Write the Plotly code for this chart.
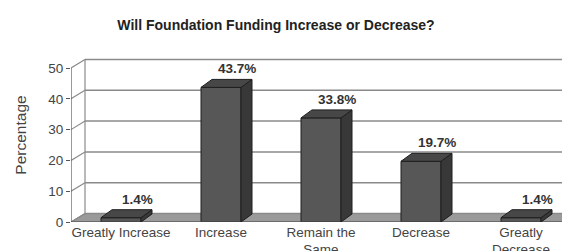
import plotly.graph_objects as go

categories = ["Greatly Increase", "Increase", "Remain the<br>Same", "Decrease", "Greatly<br>Decrease"]
values = [1.4, 43.7, 33.8, 19.7, 1.4]
labels = ["1.4%", "43.7%", "33.8%", "19.7%", "1.4%"]
ytick_vals = [0, 10, 20, 30, 40, 50]
title_text = "Will Foundation Funding Increase or Decrease?"
ytitle = "Percentage"

W, H = 570, 251
ML, MR, MT, MB = 63, 0, 40, 37
plot_w = W - ML - MR
plot_h = H - MT - MB
px_per_unit_y = 154 / 50.0
x0, x1 = -0.5, -0.5 + plot_w / 100.0
y1 = plot_h / px_per_unit_y

def dxu(px):
    return px / 100.0

def dyu(px):
    return px / px_per_unit_y

WALL_DX, WALL_DY = dxu(14), dyu(8.5)
BAR_DX, BAR_DY = dxu(11), dyu(8)
BAR_W = 0.4

FRONT = "#575757"
SIDE = "#383838"
TOP = "#474747"
EDGE = "#1e1e1e"
FLOOR = "#9a9a9a"
GRID = "#8a8a8a"
FONT = "Liberation Sans, Arial"

fig = go.Figure()
fig.add_trace(go.Bar(
    x=list(range(len(categories))), y=values, width=BAR_W,
    marker=dict(color=FRONT, line=dict(color=EDGE, width=1)),
    hoverinfo="skip", showlegend=False,
))

shapes = []
n = len(categories)
shapes.append(dict(type="path", xref="x", yref="y", layer="below",
                   path=f"M {x0},0 L {n-0.5},0 L {n-0.5+WALL_DX},{WALL_DY} L {x0+WALL_DX},{WALL_DY} Z",
                   fillcolor=FLOOR, line=dict(color="#6e6e6e", width=1)))
for v in ytick_vals:
    shapes.append(dict(type="line", xref="x", yref="y", layer="below",
                       x0=x0 + WALL_DX, x1=x1 + 1, y0=v + WALL_DY, y1=v + WALL_DY,
                       line=dict(color=GRID, width=1.5)))
    shapes.append(dict(type="line", xref="x", yref="y", layer="below",
                       x0=x0, x1=x0 + WALL_DX, y0=v, y1=v + WALL_DY,
                       line=dict(color=GRID, width=1.2)))
shapes.append(dict(type="line", xref="x", yref="y", layer="below",
                   x0=x0 + WALL_DX, x1=x0 + WALL_DX, y0=WALL_DY, y1=ytick_vals[-1] + WALL_DY,
                   line=dict(color=GRID, width=1.2)))
shapes.append(dict(type="line", xref="x", yref="y", layer="above",
                   x0=x0, x1=x0, y0=0, y1=ytick_vals[-1],
                   line=dict(color="#555555", width=1.2)))
shapes.append(dict(type="line", xref="x", yref="y", layer="above",
                   x0=x0, x1=n - 0.5, y0=0, y1=0,
                   line=dict(color="#555555", width=1)))

for i, v in enumerate(values):
    l, r = i - BAR_W / 2, i + BAR_W / 2
    side = f"M {r},0 L {r+BAR_DX},{BAR_DY} L {r+BAR_DX},{v+BAR_DY} L {r},{v} Z"
    top = f"M {l},{v} L {r},{v} L {r+BAR_DX},{v+BAR_DY} L {l+BAR_DX},{v+BAR_DY} Z"
    shapes.append(dict(type="path", xref="x", yref="y", layer="above", path=side,
                       fillcolor=SIDE, line=dict(color=EDGE, width=1)))
    shapes.append(dict(type="path", xref="x", yref="y", layer="above", path=top,
                       fillcolor=TOP, line=dict(color=EDGE, width=1)))

annotations = []
for i, (v, t) in enumerate(zip(values, labels)):
    annotations.append(dict(x=i, y=v, xref="x", yref="y", text=f"<b>{t}</b>",
                            showarrow=False, xanchor="center", yanchor="bottom",
                            xshift=16, yshift=9,
                            font=dict(family=FONT, size=13.5, color="#333333")))

fig.update_layout(
    width=W, height=H,
    margin=dict(l=ML, r=MR, t=MT, b=MB, pad=0, autoexpand=False),
    paper_bgcolor="white", plot_bgcolor="white",
    title=dict(text=f"<b>{title_text}</b>", x=268 / W, xanchor="center",
               y=1 - 17 / H, yanchor="middle", automargin=False,
               font=dict(family=FONT, size=14, color="#222222")),
    shapes=shapes, annotations=annotations,
    xaxis=dict(range=[x0, x1], tickmode="array", tickvals=list(range(n)), ticktext=categories,
               showgrid=False, zeroline=False, showline=False, automargin=False,
               ticks="", tickfont=dict(family=FONT, size=13.5, color="#444444")),
    yaxis=dict(range=[0, y1], tickmode="array", tickvals=ytick_vals, automargin=False,
               showgrid=False, zeroline=False, showline=False,
               ticks="outside", ticklen=4, tickcolor="#555555",
               tickfont=dict(family=FONT, size=13.5, color="#444444"),
               title=dict(text=ytitle, standoff=17,
                          font=dict(family=FONT, size=15.5, color="#444444"))),
    bargap=0.6,
)
for b in range(n + 1):
    fig.add_shape(type="line", xref="x", yref="y", layer="above",
                  x0=b - 0.5, x1=b - 0.5, y0=0, y1=-dyu(4),
                  line=dict(color="#555555", width=1))

fig.write_html("out.html")
